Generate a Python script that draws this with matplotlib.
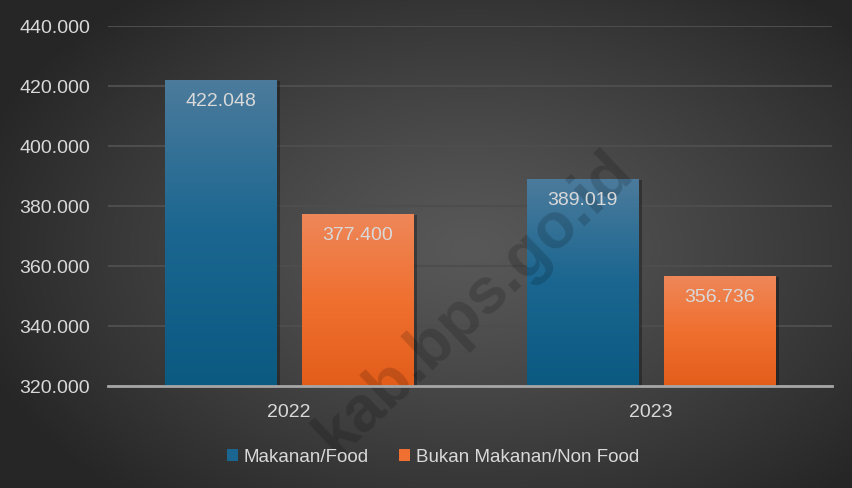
import numpy as np
import matplotlib
matplotlib.use("Agg")
import matplotlib.pyplot as plt
from matplotlib.colors import LinearSegmentedColormap
from matplotlib.patches import Patch
import matplotlib.patheffects as pe

plt.rcParams['font.family'] = ['Liberation Sans', 'DejaVu Sans']

years = ["2022", "2023"]
series_names = ["Makanan/Food", "Bukan Makanan/Non Food"]
food = [422.048, 389.019]
nonfood = [377.400, 356.736]
yticks = [320, 340, 360, 380, 400, 420, 440]
ytick_labels = ["320.000", "340.000", "360.000", "380.000", "400.000", "420.000", "440.000"]
watermark = "kab.bps.go.id"

W, H = 852, 489
fig = plt.figure(figsize=(W / 100, H / 100), dpi=100)

# radial gradient background
bg_ax = fig.add_axes([0, 0, 1, 1], zorder=-10)
yy, xx = np.mgrid[0:H, 0:W]
cx, cy = 470, 250
r = np.sqrt(((xx - cx) / 520.0) ** 2 + ((yy - cy) / 330.0) ** 2)
r = np.clip(r, 0, 1)
v = 0.345 - (0.345 - 0.15) * r ** 1.2
bg = np.dstack([v, v, v])
bg_ax.imshow(bg, extent=[0, 1, 0, 1], aspect='auto', origin='upper')
bg_ax.set_xlim(0, 1)
bg_ax.set_ylim(0, 1)
bg_ax.axis('off')

ax = fig.add_axes([108 / W, 1 - 387 / H, (832 - 108) / W, (387 - 27) / H])
ax.set_facecolor('none')
ax.set_ylim(320, 440)
ax.set_xlim(-0.5, 1.5)

x = np.arange(len(years))
bw = 0.307
off = 0.189

txt_col = '#d9d9d9'

blue_cmap = LinearSegmentedColormap.from_list('b', ['#0b5a82', '#1a6690', '#4c7b9c'])
orange_cmap = LinearSegmentedColormap.from_list('o', ['#e35d1a', '#f07030', '#ee8759'])

shadow = [pe.SimplePatchShadow(offset=(3, -1), shadow_rgbFace='black', alpha=0.3), pe.Normal()]

bars_food = ax.bar(x - off, [f - 320 for f in food], bw, bottom=320, color='#1a6690', zorder=3,
                   path_effects=shadow)
bars_non = ax.bar(x + off, [n - 320 for n in nonfood], bw, bottom=320, color='#ef7030', zorder=3,
                  path_effects=shadow)

grad = np.linspace(0, 1, 256).reshape(-1, 1)
for bars, cmap in [(bars_food, blue_cmap), (bars_non, orange_cmap)]:
    for b in bars:
        x0, y0 = b.get_x(), b.get_y()
        im = ax.imshow(grad, cmap=cmap, extent=[x0, x0 + b.get_width(), y0, y0 + b.get_height()],
                       origin='lower', aspect='auto', zorder=4)
        im.set_clip_path(b)

ax.set_xlim(-0.5, 1.5)
ax.set_ylim(320, 440)

for vals, xs in [(food, x - off), (nonfood, x + off)]:
    for xi, val in zip(xs, vals):
        ax.annotate(f"{val:.3f}", (xi, val), xytext=(0, -15), textcoords='offset points',
                    ha='center', va='center', color=txt_col, fontsize=14, zorder=6)

ax.set_yticks(yticks)
ax.set_yticklabels(ytick_labels)
ax.set_xticks(x)
ax.set_xticklabels(years)
ax.tick_params(axis='y', length=0, pad=13, labelsize=14, labelcolor=txt_col)
ax.tick_params(axis='x', length=0, pad=12, labelsize=14, labelcolor=txt_col)
ax.grid(axis='y', color='#4d4d4d', linewidth=1.5, zorder=0)
ax.set_axisbelow(True)
for s in ['top', 'right', 'left']:
    ax.spines[s].set_visible(False)
ax.spines['bottom'].set_color('#a6a6a6')
ax.spines['bottom'].set_linewidth(2)
ax.spines['bottom'].set_zorder(5)

handles = [Patch(facecolor='#1a6690', edgecolor='none'), Patch(facecolor='#ef7030', edgecolor='none')]
leg = fig.legend(handles, series_names, loc='center', bbox_to_anchor=(0.508, 1 - 458 / H),
                 ncol=2, frameon=False, fontsize=13.5, labelcolor=txt_col,
                 handlelength=0.6, handleheight=0.6, handletextpad=0.3, columnspacing=1.6)

ax.text(474 / W, 1 - 304 / H, watermark, rotation=43.5, ha='center', va='center',
        fontsize=46, fontweight='bold', color='black', alpha=0.16, zorder=5,
        transform=fig.transFigure, clip_on=False)

fig.savefig('out.png', dpi=100)
